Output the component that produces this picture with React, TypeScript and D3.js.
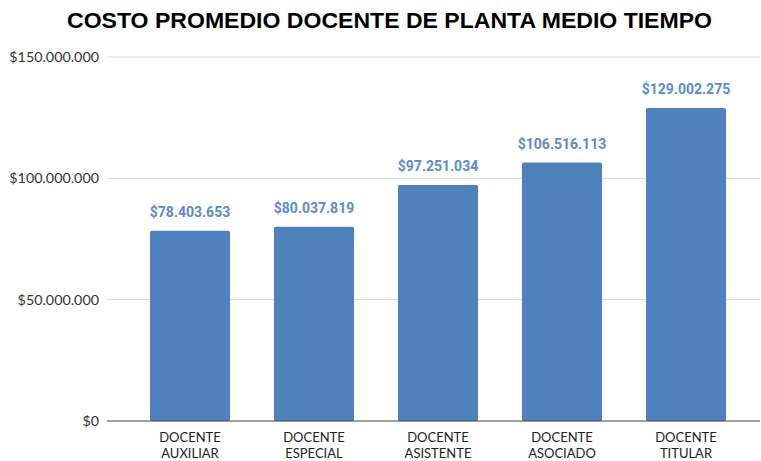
import React from 'react';
import * as d3 from 'd3';

const categories = [
  ['DOCENTE', 'AUXILIAR'],
  ['DOCENTE', 'ESPECIAL'],
  ['DOCENTE', 'ASISTENTE'],
  ['DOCENTE', 'ASOCIADO'],
  ['DOCENTE', 'TITULAR'],
];
const values = [78403653, 80037819, 97251034, 106516113, 129002275];
const yTicks = [0, 50000000, 100000000, 150000000];

const fmt = (v: number) => '$' + d3.format(',')(v).replace(/,/g, '.');

const App = () => {
  const width = 761;
  const height = 461;
  const left = 107;
  const right = 760;

  const x = d3.scaleBand<number>()
    .domain(values.map((_, i) => i))
    .range([106, 770])
    .paddingInner(0.355)
    .paddingOuter(0.355);

  const y = d3.scaleLinear()
    .domain([0, 150000000])
    .range([421, 57]);

  return (
    <svg width={width} height={height} style={{ position: 'absolute', left: 0, top: 0 }}>
      <rect width={width} height={height} fill="#fff" />
      <text
        x={389.5}
        y={28}
        textAnchor="middle"
        fontFamily="Liberation Sans, Arial, sans-serif"
        fontWeight="bold"
        fontSize={22}
        textLength={645}
        lengthAdjust="spacingAndGlyphs"
        fill="#000"
      >
        COSTO PROMEDIO DOCENTE DE PLANTA MEDIO TIEMPO
      </text>

      {/* grid + y labels */}
      {yTicks.map(t => (
        <g key={t}>
          {t !== 0 && (
            <line x1={left} x2={right} y1={y(t)} y2={y(t)} stroke="#d9d9d9" strokeWidth={1} />
          )}
          <text
            x={99}
            y={y(t)}
            dy="0.35em"
            textAnchor="end"
            fontFamily="Lato, sans-serif"
            fontSize={14.3}
            fill="#333"
          >
            {fmt(t)}
          </text>
        </g>
      ))}

      {/* bars */}
      {values.map((v, i) => (
        <g key={i}>
          <rect
            x={x(i)}
            y={y(v)}
            width={x.bandwidth()}
            height={y(0) - y(v)}
            fill="#4f81bd"
            rx={1.5}
          />
          <text
            x={(x(i) as number) + x.bandwidth() / 2}
            y={y(v) - 14}
            textAnchor="middle"
            fontFamily="Roboto, sans-serif"
            fontWeight="bold"
            fontSize={14}
            fill="#5b8bcb"
          >
            {fmt(v)}
          </text>
        </g>
      ))}

      {/* baseline */}
      <line x1={left} x2={right} y1={y(0)} y2={y(0)} stroke="#404040" strokeWidth={1} />

      {/* category labels */}
      {categories.map((c, i) => (
        <text
          key={i}
          x={(x(i) as number) + x.bandwidth() / 2}
          textAnchor="middle"
          fontFamily="Lato, sans-serif"
          fontSize={13}
          fill="#222"
        >
          {c.map((line, j) => (
            <tspan key={j} x={(x(i) as number) + x.bandwidth() / 2} y={442 + j * 16}>
              {line}
            </tspan>
          ))}
        </text>
      ))}
    </svg>
  );
};

export default App;
